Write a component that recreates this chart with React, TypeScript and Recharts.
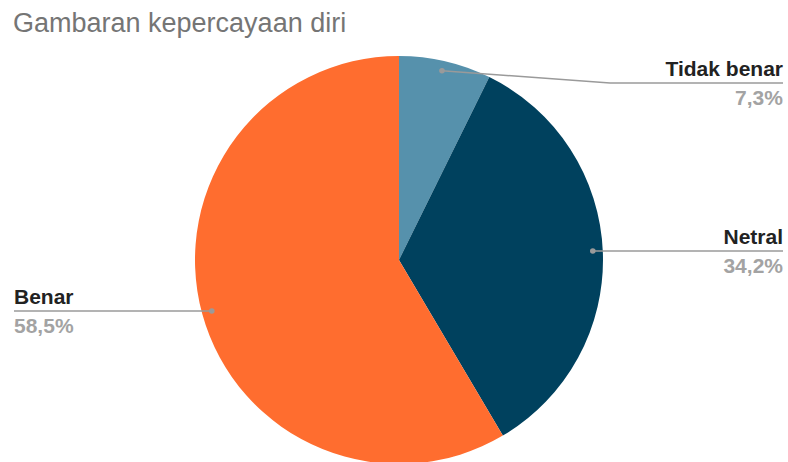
import { PieChart, Pie, Cell } from "recharts";

const categories = ["Tidak benar", "Netral", "Benar"];
const shares = [7.3, 34.2, 58.5];

const SLICE_COLORS = ["#5691ac", "#00415e", "#ff6d2f"];

// where Google-style leader lines start and end for each slice
const LABEL_LAYOUT = [
  { angle: 77.2, lineY: 83, bendX: 610, side: "right" },
  { angle: 2.6, lineY: 251, bendX: null, side: "right" },
  { angle: 195.2, lineY: 311, bendX: null, side: "left" },
];

const chartData = categories.map((name, i) => ({ name, value: shares[i] }));

const FONT = "'Liberation Sans', Arial, sans-serif";
const RAD = Math.PI / 180;

function renderLabel(props: any) {
  const { cx, cy, outerRadius, index, name, value } = props;
  const layout = LABEL_LAYOUT[index];
  const r = outerRadius - 10;
  const dx = cx + r * Math.cos(layout.angle * RAD);
  const dy = cy - r * Math.sin(layout.angle * RAD);
  const right = layout.side === "right";
  const endX = right ? 783 : 14;
  const points = layout.bendX != null
    ? `${dx},${dy} ${layout.bendX},${layout.lineY} ${endX},${layout.lineY}`
    : `${dx},${layout.lineY} ${endX},${layout.lineY}`;
  const anchor = right ? "end" : "start";
  return (
    <g key={`lbl-${index}`}>
      <polyline points={points} fill="none" stroke="#9a9a9a" strokeWidth={1.5} />
      <circle cx={dx} cy={layout.bendX != null ? dy : layout.lineY} r={2.8} fill="#9a9a9a" />
      <text x={endX} y={layout.lineY - 7} textAnchor={anchor} fontFamily={FONT} fontWeight={700} fontSize={21} fill="#222222">
        {name}
      </text>
      <text x={endX} y={layout.lineY + 22} textAnchor={anchor} fontFamily={FONT} fontWeight={700} fontSize={21} fill="#a3a3a3">
        {String(value).replace(".", ",")}%
      </text>
    </g>
  );
}

export default function App() {
  return (
    <div style={{ position: "absolute", left: 0, top: 0, width: 788, height: 462, background: "#fff", overflow: "hidden" }}>
      <div style={{ position: "absolute", left: 13, top: 10, fontFamily: FONT, fontSize: 27, lineHeight: 1, color: "#757575", whiteSpace: "nowrap" }}>
        Gambaran kepercayaan diri
      </div>
      <PieChart width={788} height={462} margin={{ top: 0, right: 0, bottom: 0, left: 0 }} style={{ position: "absolute", left: 0, top: 0 }}>
        <Pie
          data={chartData}
          dataKey="value"
          nameKey="name"
          cx={399}
          cy={260}
          outerRadius={204}
          startAngle={90}
          endAngle={-270}
          stroke="none"
          label={renderLabel}
          labelLine={false}
          isAnimationActive={false}
        >
          {chartData.map((entry, i) => (
            <Cell key={entry.name} fill={SLICE_COLORS[i]} />
          ))}
        </Pie>
      </PieChart>
    </div>
  );
}
